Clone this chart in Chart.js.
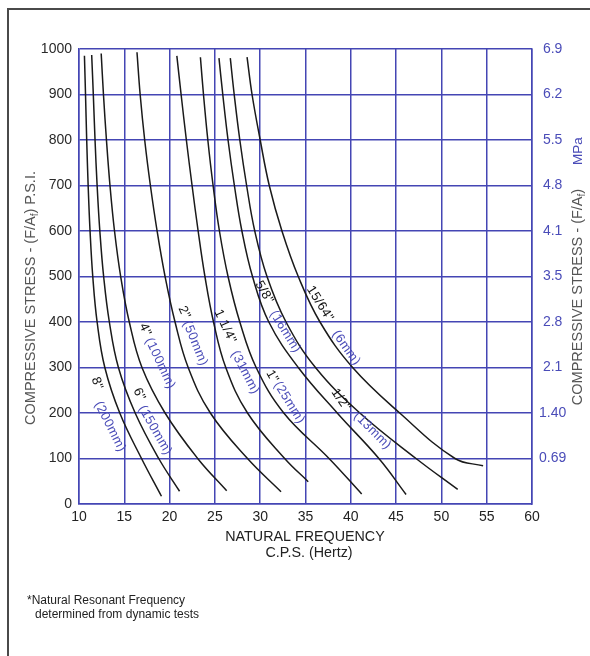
<!DOCTYPE html>
<html><head><meta charset="utf-8">
<script src="https://cdn.jsdelivr.net/npm/chart.js@4.4.0/dist/chart.umd.min.js"></script>
<style>html,body{margin:0;padding:0;background:#fff;}#wrap{width:590px;height:656px;position:relative;}</style>
</head><body><div id="wrap"><canvas id="c" width="590" height="656"></canvas></div>
<script>
// ---- tick labels ----
const freqTicks = [10, 15, 20, 25, 30, 35, 40, 45, 50, 55, 60];
const psiTicks = [0, 100, 200, 300, 400, 500, 600, 700, 800, 900, 1000];
const mpaLabels = ['', '0.69', '1.40', '2.1', '2.8', '3.5', '4.1', '4.8', '5.5', '6.2', '6.9'];

// ---- series: pad thickness curves (stress in psi, frequency in Hz) ----
const names = ['8"', '6"', '4"', '2"', '1 1/4"', '1"', '5/8"', '1/2"', '15/64"'];
const metric = ['(200mm)', '(150mm)', '(100mm)', '(50mm)', '(31mm)', '(25mm)', '(16mm)', '(13mm)', '(6mm)'];

const psi_8in   = [985, 900, 800, 700, 600, 500, 400, 300, 200, 100, 17];
const hz_8in    = [10.6, 10.72, 10.85, 11.01, 11.22, 11.52, 12.0, 12.85, 14.5, 16.9, 19.1];
const psi_6in   = [987, 900, 800, 700, 600, 500, 400, 300, 200, 100, 28];
const hz_6in    = [11.4, 11.58, 11.77, 12.0, 12.3, 12.72, 13.35, 14.35, 16.2, 18.8, 21.1];
const psi_4in   = [990, 900, 800, 700, 600, 500, 400, 300, 200, 100, 29];
const hz_4in    = [12.45, 12.7, 13.03, 13.42, 13.92, 14.6, 15.55, 16.95, 19.5, 23.1, 26.3];
const psi_2in   = [993, 900, 800, 700, 600, 500, 400, 300, 200, 100, 27];
const hz_2in    = [16.4, 16.75, 17.25, 17.88, 18.62, 19.5, 20.6, 22.05, 24.5, 28.6, 32.3];
const psi_114in = [985, 900, 800, 700, 600, 500, 400, 300, 200, 100, 49];
const hz_114in  = [20.8, 21.27, 21.85, 22.48, 23.15, 23.9, 24.85, 26.2, 28.6, 32.7, 35.3];
const psi_1in   = [982, 900, 800, 700, 600, 500, 400, 300, 200, 100, 22];
const hz_1in    = [23.4, 23.74, 24.22, 24.8, 25.5, 26.45, 27.75, 29.55, 32.6, 37.6, 41.2];
const psi_58in  = [980, 900, 800, 700, 600, 500, 400, 300, 200, 100, 21];
const hz_58in   = [25.45, 25.87, 26.45, 27.15, 27.98, 29.15, 30.95, 34.2, 38.5, 43.1, 46.1];
const psi_12in  = [980, 900, 800, 700, 600, 500, 400, 300, 200, 100, 32];
const hz_12in   = [26.7, 27.13, 27.75, 28.5, 29.4, 30.75, 32.85, 36.1, 41.0, 47.2, 51.8];
const psi_1564in = [982, 900, 800, 700, 600, 500, 400, 300, 200, 100, 84];
const hz_1564in  = [28.55, 29.1, 30.0, 31.0, 32.4, 34.2, 36.6, 40.2, 45.4, 51.5, 54.6];

const seriesPsi = [psi_8in, psi_6in, psi_4in, psi_2in, psi_114in, psi_1in, psi_58in, psi_12in, psi_1564in];
const seriesHz  = [hz_8in, hz_6in, hz_4in, hz_2in, hz_114in, hz_1in, hz_58in, hz_12in, hz_1564in];

// ---- label anchors (data units) and angles ----
const nameAt   = [[11.99,265,70],[16.63,241,65],[17.29,383,65],[21.6,421,65],[26.13,390,65],[31.33,280,60],[30.44,465,60],[38.9,229,55],[36.6,440,58]];
const metricAt = [[13.43,170,63],[18.4,162,60],[18.95,309,65],[22.82,353,68],[28.34,289,62],[33.2,223,58],[32.76,379,58],[42.4,161,45],[39.5,343,55]];

const FONT = '"Liberation Sans", Arial, Helvetica, sans-serif';
const GRID = '#4446b4';
const BLUE = '#4a4cb8';

const datasets = seriesPsi.map((ps, i) => ({
  label: names[i],
  data: ps.map((p, j) => ({ x: seriesHz[i][j], y: p })),
  borderColor: '#1a1a1a',
  borderWidth: 1.5,
  pointRadius: 0,
  tension: 0.4,
  fill: false
}));

function richWidth(ctx, parts, size, ls) {
  let w = 0;
  for (const p of parts) {
    ctx.font = (p.sub ? Math.round(size * 0.7) : size) + 'px ' + FONT;
    ctx.letterSpacing = (ls || 0) + 'px';
    w += ctx.measureText(p.t).width;
  }
  return w;
}
function drawRich(ctx, parts, cx, cy, rot, size, ls) {
  ctx.save();
  ctx.translate(cx, cy);
  ctx.rotate(rot);
  const w = richWidth(ctx, parts, size, ls);
  let x = -w / 2;
  ctx.textBaseline = 'middle';
  ctx.textAlign = 'left';
  for (const p of parts) {
    const s = p.sub ? Math.round(size * 0.7) : size;
    ctx.font = s + 'px ' + FONT;
    ctx.letterSpacing = (ls || 0) + 'px';
    ctx.fillStyle = p.c;
    ctx.fillText(p.t, x, p.sub ? size * 0.3 : 0);
    x += ctx.measureText(p.t).width;
  }
  ctx.restore();
}

const decor = {
  id: 'decor',
  afterDraw(chart) {
    const ctx = chart.ctx;
    const xs = chart.scales.x, ys = chart.scales.y;
    // outer frame
    ctx.save();
    ctx.strokeStyle = '#4a4a4a';
    ctx.lineWidth = 2;
    ctx.beginPath();
    ctx.moveTo(8, 660); ctx.lineTo(8, 9); ctx.lineTo(600, 9);
    ctx.stroke();
    ctx.restore();

    // curve labels
    for (let i = 0; i < names.length; i++) {
      const a = nameAt[i], b = metricAt[i];
      drawRich(ctx, [{ t: names[i], c: '#111' }], xs.getPixelForValue(a[0]), ys.getPixelForValue(a[1]), a[2] * Math.PI / 180, 13, 0.4);
      drawRich(ctx, [{ t: metric[i], c: BLUE }], xs.getPixelForValue(b[0]), ys.getPixelForValue(b[1]), b[2] * Math.PI / 180, 13, 0.4);
    }

    // axis titles
    const gray = '#555';
    drawRich(ctx, [{ t: 'COMPRESSIVE STRESS - (F/A', c: gray }, { t: 'f', c: gray, sub: true }, { t: ') P.S.I.', c: gray }], 31, 298, -Math.PI / 2, 14.5);
    drawRich(ctx, [{ t: 'COMPRESSIVE STRESS - (F/A', c: gray }, { t: 'f', c: gray, sub: true }, { t: ')', c: gray }], 578, 297, -Math.PI / 2, 14.5);
    drawRich(ctx, [{ t: 'MPa', c: BLUE }], 578, 151, -Math.PI / 2, 13.5);
    drawRich(ctx, [{ t: 'NATURAL FREQUENCY', c: '#222' }], 305, 537, 0, 14.3);
    drawRich(ctx, [{ t: 'C.P.S. (Hertz)', c: '#222' }], 309, 553, 0, 14.3);

    // footnote
    ctx.save();
    ctx.fillStyle = '#222';
    ctx.font = '12px ' + FONT;
    ctx.textBaseline = 'middle';
    ctx.fillText('*Natural Resonant Frequency', 27, 601);
    ctx.fillText('determined from dynamic tests', 35, 615);
    ctx.restore();
  }
};

new Chart(document.getElementById('c'), {
  type: 'line',
  data: { datasets },
  options: {
    indexAxis: 'y',
    responsive: false,
    animation: false,
    events: [],
    layout: { padding: { top: 49, left: 0, right: 0, bottom: 0 } },
    plugins: { legend: { display: false }, tooltip: { enabled: false } },
    scales: {
      x: {
        type: 'linear', position: 'bottom', min: 10, max: 60,
        afterBuildTicks: s => { s.ticks = freqTicks.map(v => ({ value: v })); },
        afterFit: s => { s.height = 152; },
        grid: { color: GRID, lineWidth: 1.5, drawTicks: false },
        border: { color: GRID, width: 1.5 },
        ticks: { padding: 5, color: '#222', font: { size: 14, family: FONT }, maxRotation: 0, autoSkip: false,
                 callback: v => String(v) }
      },
      y: {
        type: 'linear', position: 'left', min: 0, max: 1000,
        afterBuildTicks: s => { s.ticks = psiTicks.map(v => ({ value: v })); },
        afterFit: s => { s.width = 79; },
        grid: { color: GRID, lineWidth: 1.5, drawTicks: false },
        border: { color: GRID, width: 1.5 },
        ticks: { padding: 7, color: '#2a2a2a', font: { size: 14, family: FONT }, autoSkip: false,
                 callback: v => String(v) }
      },
      y2: {
        type: 'linear', position: 'right', min: 0, max: 1000,
        afterBuildTicks: s => { s.ticks = psiTicks.map(v => ({ value: v })); },
        afterFit: s => { s.width = 58; },
        grid: { display: false, drawTicks: false },
        border: { color: GRID, width: 1.5 },
        ticks: { padding: 7, crossAlign: 'center', color: BLUE, font: { size: 14, family: FONT }, autoSkip: false,
                 callback: v => mpaLabels[psiTicks.indexOf(v)] }
      }
    }
  },
  plugins: [decor]
});
</script>
</body></html>
